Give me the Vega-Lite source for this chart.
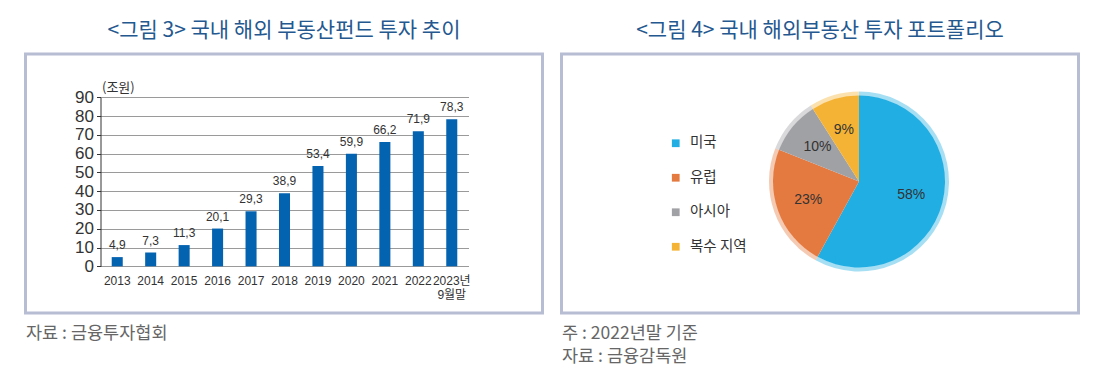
{
  "$schema": "https://vega.github.io/schema/vega-lite/v6.json",
  "padding": {"left": 23.5, "top": 18, "right": 0, "bottom": 0},
  "background": "white",
  "spacing": 15,
  "config": {
    "locale": {"number": {"decimal": ",", "thousands": ".", "grouping": [3], "currency": ["", ""]}},
    "view": {"stroke": "#b7bed3", "strokeWidth": 3},
    "title": {"font": "Noto Sans CJK KR", "fontSize": 21, "fontWeight": "normal", "color": "#24588f", "anchor": "middle", "offset": 13},
    "concat": {"spacing": 15}
  },
  "hconcat": [
    {
      "title": {"text": "자료 : 금융투자협회", "orient": "bottom", "anchor": "start", "font": "Noto Sans CJK KR", "fontSize": 17.5, "color": "#666666", "offset": 10, "dx": 2},
      "vconcat": [
        {
          "width": 517,
          "height": 259,
          "title": {"text": "<그림 3> 국내 해외 부동산펀드 투자 추이"},
          "data": {"values": [
            {"year": "2013", "value": 4.9},
            {"year": "2014", "value": 7.3},
            {"year": "2015", "value": 11.3},
            {"year": "2016", "value": 20.1},
            {"year": "2017", "value": 29.3},
            {"year": "2018", "value": 38.9},
            {"year": "2019", "value": 53.4},
            {"year": "2020", "value": 59.9},
            {"year": "2021", "value": 66.2},
            {"year": "2022", "value": 71.9},
            {"year": "2023년 9월말", "value": 78.3}
          ]},
          "encoding": {
            "x": {
              "field": "year", "type": "nominal", "sort": null,
              "scale": {"range": [75, 443], "paddingInner": 0.67, "paddingOuter": 0.335},
              "axis": {"title": null, "orient": "bottom", "offset": -46.7, "domain": false, "ticks": false, "labelPadding": 9, "labelAngle": 0, "labelFont": "Liberation Sans, Noto Sans CJK KR", "labelFontSize": 12, "labelColor": "#333333", "labelExpr": "split(datum.label, ' ')", "labelLineHeight": 14, "labelOverlap": false, "grid": false}
            },
            "y": {
              "field": "value", "type": "quantitative",
              "scale": {"domain": [0, 90], "range": [212.3, 43.3], "nice": false, "zero": true},
              "axis": {"title": "(조원)", "titleAngle": 0, "titleX": 1, "titleY": 33, "titleAlign": "left", "titleBaseline": "middle", "titleFont": "Noto Sans CJK KR", "titleFontSize": 13, "titleFontWeight": "normal", "titleColor": "#333333", "offset": -75, "values": [0, 10, 20, 30, 40, 50, 60, 70, 80, 90], "domain": true, "domainColor": "#333333", "domainWidth": 1, "ticks": true, "tickSize": 4, "tickColor": "#333333", "labelPadding": 3, "labelFont": "Liberation Sans, Noto Sans", "labelFontSize": 17, "labelColor": "#333333", "grid": true, "gridColor": "#9a9a9a", "gridWidth": 1}
            }
          },
          "layer": [
            {"mark": {"type": "bar", "color": "#0463b1"}},
            {
              "mark": {"type": "text", "dy": -5, "baseline": "bottom", "align": "center", "font": "Liberation Sans", "fontSize": 12, "color": "#333333"},
              "encoding": {"text": {"field": "value", "type": "quantitative", "format": ".1f"}}
            }
          ]
        }
      ]
    },
    {
      "title": {"text": ["주 : 2022년말 기준", "자료 : 금융감독원"], "orient": "bottom", "anchor": "start", "font": "Noto Sans CJK KR", "fontSize": 17.5, "lineHeight": 23, "color": "#666666", "offset": 10, "dx": 2},
      "vconcat": [
        {
          "width": 517,
          "height": 259,
          "view": {"stroke": "#b7bed3", "strokeWidth": 3},
          "title": {"text": "<그림 4> 국내 해외부동산 투자 포트폴리오"},
          "data": {"values": [
            {"region": "미국", "share": 0.58, "idx": 1},
            {"region": "유럽", "share": 0.23, "idx": 2},
            {"region": "아시아", "share": 0.10, "idx": 3},
            {"region": "복수 지역", "share": 0.09, "idx": 4}
          ]},
          "encoding": {
            "theta": {"field": "share", "type": "quantitative", "stack": true},
            "order": {"field": "idx", "type": "quantitative"},
            "color": {
              "field": "region", "type": "nominal",
              "scale": {"domain": ["미국", "유럽", "아시아", "복수 지역"], "range": ["#21aee3", "#e57a40", "#a0a1a5", "#f5b335"]},
              "legend": {"title": null, "orient": "none", "legendX": 643, "legendY": 82, "symbolType": "square", "symbolSize": 60, "symbolOpacity": 1, "symbolStrokeWidth": 0, "labelFont": "Noto Sans CJK KR", "labelFontSize": 14.5, "labelColor": "#333333", "rowPadding": 19.5, "labelOffset": 7, "padding": 0}
            }
          },
          "layer": [
            {"mark": {"type": "arc", "radius": 86, "xOffset": 39, "yOffset": -2}},
            {"mark": {"type": "arc", "radius": 90, "radius2": 85.5, "opacity": 0.4, "xOffset": 39, "yOffset": -2}},
            {
              "mark": {"type": "text", "radius": 54, "xOffset": 39, "yOffset": -2, "font": "Liberation Sans", "fontSize": 14, "align": "center", "baseline": "middle"},
              "encoding": {"text": {"field": "share", "type": "quantitative", "format": ".0%"}, "color": {"value": "#333333"}}
            }
          ]
        }
      ]
    }
  ]
}
